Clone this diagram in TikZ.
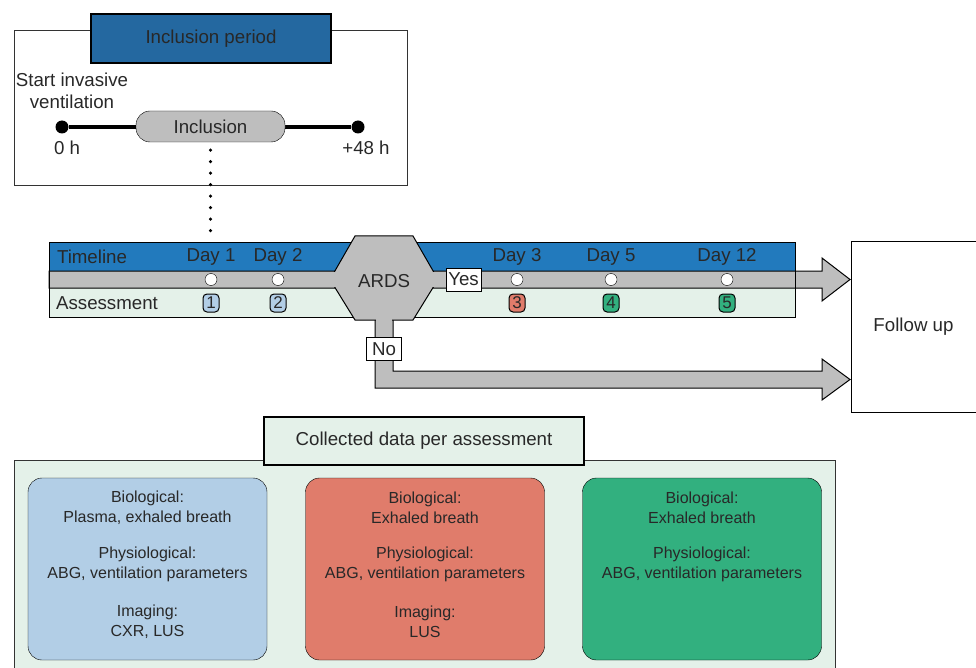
\documentclass[tikz,border=0pt]{standalone}
\usepackage{fontspec}
\setmainfont{Liberation Sans}
\usetikzlibrary{positioning}
\definecolor{hdrblue}{RGB}{36,104,160}
\definecolor{tlblue}{RGB}{34,122,189}
\definecolor{bandgray}{RGB}{190,190,190}
\definecolor{palegreen}{RGB}{228,241,233}
\definecolor{lblue}{RGB}{178,206,230}
\definecolor{lred}{RGB}{224,124,107}
\definecolor{lgreen}{RGB}{50,176,127}
\definecolor{txtgray}{RGB}{40,40,40}
\begin{document}
\begin{tikzpicture}[x=1pt, y=-1pt, >=stealth,
    every node/.style={font=\fontsize{18.7}{22}\selectfont, text=txtgray},
    lbl/.style={font=\fontsize{16}{20}\selectfont, align=center},
    numbox/.style={draw, rounded corners=4pt, line width=1pt, minimum width=16pt, minimum height=18pt, inner sep=0pt, font=\fontsize{17}{17}\selectfont},
    daydot/.style={circle, draw, fill=white, minimum size=12pt, inner sep=0pt},
    bigdot/.style={circle, fill=black, minimum size=13pt, inner sep=0pt},
    databox/.style={draw, rounded corners=14pt, minimum width=239pt, minimum height=182pt},
    tag/.style={draw, fill=white, line width=1pt, inner sep=0pt, minimum width=35pt, minimum height=23pt}
]
    \useasboundingbox (0,0) rectangle (976,668);
    % Inclusion period
    \node[draw=black!80, minimum width=393pt, minimum height=155pt] (incbox) at (210.5,107.5) {};
    \node[draw, line width=2pt, fill=hdrblue, minimum width=240pt, minimum height=49pt] (incper) at (211,39) {Inclusion period};
    \node[align=center] (start) at (72,91) {Start invasive\\ventilation};
    \node[bigdot] (t0) at (62,127) {};
    \node[bigdot] (t48) at (358,127) {};
    \draw[line width=3.5pt] (t0) -- (t48);
    \node[draw, fill=bandgray, rounded corners=14pt, minimum width=149pt, minimum height=31pt] (incl) at (210.5,126.5) {Inclusion};
    \node (h0) at (67,148) {0 h};
    \node (h48) at (366,148) {+48 h};
    \coordinate (dotend) at (210.5,238);
    \draw[line width=3.5pt, line cap=round, dash pattern=on 0pt off 11.5pt] ([yshift=-8pt]incl.south) -- (dotend);

    % Timeline bands
    \fill[tlblue] (49,242) rectangle (795,271);
    \fill[palegreen] (49,288) rectangle (795,317);
    \draw[fill=bandgray, line width=1pt] (49,271) -- (822,271) -- (822,258) -- (850,279.5) -- (822,301) -- (822,288) -- (49,288) -- cycle;
    \draw[line width=1pt] (49,242) rectangle (795,317);
    \draw[fill=bandgray, line width=1pt] (375,315) -- (375,388) -- (822,388) -- (822,400) -- (850,379.5) -- (822,359) -- (822,371) -- (393,371) -- (393,315) -- cycle;
    \draw[fill=bandgray, line width=1pt] (355,236) -- (413,236) -- (438,279.5) -- (413,320) -- (355,320) -- (330,279.5) -- cycle;
    \fill[bandgray] (320,272) rectangle (450,287);
    \fill[bandgray] (376,318) rectangle (392,324);
    \node (ards) at (384,281) {ARDS};
    \node[tag] (yes) at (463.5,279.5) {Yes};
    \node[tag] (no) at (384,349) {No};

    \node (tl) at (92,257) {Timeline};
    \node (as) at (107,303) {Assessment};
    \foreach \x/\d/\n/\c in {211/1/1/lblue, 278/2/2/lblue, 517/3/3/lred, 611/5/4/lgreen, 727/12/5/lgreen} {
        \node (day\n) at (\x,257) {Day \d};
        \node[daydot] (dot\n) at (\x,279.5) {};
        \node[numbox, fill=\c] (ass\n) at (\x,303) {\n};
    }

    \node[draw, minimum width=125pt, minimum height=171pt] (follow) at (913.5,326.5) {Follow up};

    % Collected data
    \node[draw=black!80, fill=palegreen, minimum width=821pt, minimum height=220pt, anchor=north west] (panel) at (14,460) {};
    \node[draw, line width=2pt, fill=palegreen, minimum width=320pt, minimum height=48pt] (coll) at (424,441) {Collected data per assessment};

    \node[databox, fill=lblue] (box1) at (147.5,569) {};
    \node[databox, fill=lred] (box2) at (425,569) {};
    \node[databox, fill=lgreen] (box3) at (702,569) {};
    \foreach \x/\b in {147.5/1, 425/2, 702/3} {
        \node[lbl] (phys\b) at (\x,564.5) {Physiological:\\ABG, ventilation parameters};
    }
    \node[lbl] (bio1) at (147.5,507.5) {Biological:\\Plasma, exhaled breath};
    \node[lbl] (bio2) at (425,507.5) {Biological:\\Exhaled breath};
    \node[lbl] (bio3) at (702,507.5) {Biological:\\Exhaled breath};
    \node[lbl] (img1) at (147.5,622) {Imaging:\\CXR, LUS};
    \node[lbl] (img2) at (425,622) {Imaging:\\LUS};
\end{tikzpicture}
\end{document}
